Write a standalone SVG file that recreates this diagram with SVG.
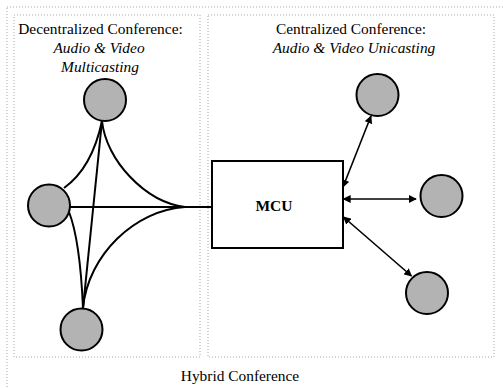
<svg xmlns="http://www.w3.org/2000/svg" width="503" height="388" viewBox="0 0 503 388">
<style>
.frame{fill:none;stroke:#a8a8a8;stroke-width:1;stroke-dasharray:1 2}
.node{fill:#b3b3b3;stroke:#000;stroke-width:2}
.ln{fill:none;stroke:#000;stroke-width:2}
.ar{fill:none;stroke:#000;stroke-width:1.6;marker-start:url(#ah);marker-end:url(#ah)}
</style>
<defs>
<marker id="ah" viewBox="0 0 10 10" refX="9" refY="5" markerWidth="5" markerHeight="5" orient="auto-start-reverse" markerUnits="strokeWidth">
<path d="M0,0 L10,5 L0,10 z" fill="#000"/>
</marker>
</defs>
<g id="frames">
<rect class="frame" x="7" y="7" width="510" height="400"/>
<rect class="frame" x="14" y="15" width="186" height="342"/>
<rect class="frame" x="208" y="15" width="286" height="342"/>
</g>
<g id="labels" font-family="Liberation Serif, DejaVu Serif, serif" font-size="15.4" text-anchor="middle" fill="#000">
<text x="100.5" y="34">Decentralized Conference:</text>
<text font-style="italic" x="99" y="53">Audio &amp; Video</text>
<text font-style="italic" x="100" y="72">Multicasting</text>
<text x="351" y="34">Centralized Conference:</text>
<text font-style="italic" x="354" y="53">Audio &amp; Video Unicasting</text>
<text x="240" y="381">Hybrid Conference</text>
</g>
<g id="connectors">
<path class="ln" d="M70,207 L212,207"/>
<path class="ln" d="M102,121 C106,160 145,202 185,207"/>
<path class="ln" d="M83,308 C88,255 135,210 185,207"/>
<path class="ln" d="M102,121 Q92,168 64,188"/>
<path class="ln" d="M69,212 Q80,240 83,308"/>
<path class="ln" d="M102,121 L83,308"/>
<path class="ar" d="M343,187 L371,116"/>
<path class="ar" d="M343.5,199 L416,199"/>
<path class="ar" d="M343.5,217 L411.5,276"/>
</g>
<g id="n-top"><circle class="node" cx="105" cy="100" r="21"/></g>
<g id="n-left"><circle class="node" cx="49" cy="205.5" r="21"/></g>
<g id="n-bottom"><circle class="node" cx="81.5" cy="329.5" r="21"/></g>
<g id="mcu">
<rect x="212" y="161" width="131" height="87" fill="#fff" stroke="#000" stroke-width="2"/>
<text x="274" y="211" font-family="Liberation Serif, DejaVu Serif, serif" font-size="15.5" font-weight="bold" text-anchor="middle" fill="#000">MCU</text>
</g>
<g id="r-top"><circle class="node" cx="377.5" cy="95" r="21"/></g>
<g id="r-mid"><circle class="node" cx="441.5" cy="196" r="21"/></g>
<g id="r-bottom"><circle class="node" cx="427" cy="293" r="21"/></g>
</svg>
